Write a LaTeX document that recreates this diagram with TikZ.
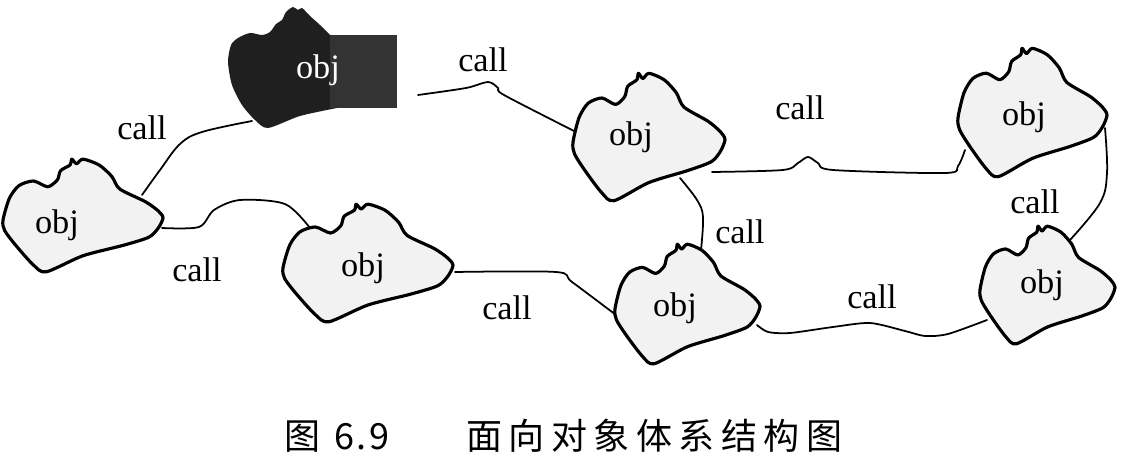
\documentclass[tikz,border=0pt]{standalone}
\usepackage{fontspec}
\setmainfont{Liberation Serif}
\newfontfamily\cjk[LetterSpace=18]{Noto Sans CJK SC}
\usetikzlibrary{positioning}

\begin{document}
\begin{tikzpicture}[x=0.02cm,y=-0.02cm,
	blob/.style={draw=black,line width=1.8pt,fill=black!5,line join=round},
	link/.style={draw=black,line width=1pt,line cap=round},
	lbl/.style={font=\fontsize{19.5}{22}\selectfont,inner sep=0pt}]

\useasboundingbox (0,0) rectangle (1127,452);

% attach points of the calls
\coordinate (c12a) at (142,195);
\coordinate (c12b) at (252,121);
\coordinate (c13a) at (162,228);
\coordinate (c13b) at (310,228);
\coordinate (c24a) at (418,95);
\coordinate (c24b) at (574,131);
\coordinate (c35a) at (455,272);
\coordinate (c35b) at (616,315);
\coordinate (c46a) at (712,172);
\coordinate (c46b) at (965,150);
\coordinate (c45a) at (680,178);
\coordinate (c45b) at (701,250);
\coordinate (c67a) at (1105,128);
\coordinate (c67b) at (1070,240);
\coordinate (c57a) at (757,325);
\coordinate (c57b) at (987,320);

% calls
\draw[link] plot[smooth,tension=0.6] coordinates {(c12a) (160,170) (180,144) (202,132) (c12b)};
\draw[link] plot[smooth,tension=0.5] coordinates {(c13a) (199,227) (214,210) (240,200) (285,204) (c13b)};
\draw[link] plot[smooth,tension=0.5] coordinates {(c24a) (466,88) (488,82) (498,88) (504,95) (c24b)};
\draw[link] plot[smooth,tension=0.5] coordinates {(c35a) (556,272) (572,282) (c35b)};
\draw[link] plot[smooth,tension=0.5] coordinates {(c46a) (783,170) (798,163) (808,157) (818,163) (833,170) (945,173) (958,166) (c46b)};
\draw[link] plot[smooth,tension=0.6] coordinates {(c45a) (697,200) (703,217) (c45b)};
\draw[link] plot[smooth,tension=0.6] coordinates {(c67a) (1107,173) (1100,203) (c67b)};
\draw[link] plot[smooth,tension=0.45] coordinates {(c57a) (768,332) (790,333) (833,327) (870,323) (905,331) (925,336) (948,334) (c57b)};

\node[lbl] (l12) at (142,128) {call};
\node[lbl] (l13) at (197,270) {call};
\node[lbl] (l24) at (483,60) {call};
\node[lbl] (l35) at (507,308) {call};
\node[lbl] (l46) at (800,108) {call};
\node[lbl] (l45) at (740,232) {call};
\node[lbl] (l67) at (1035,202) {call};
\node[lbl] (l57) at (872,297) {call};

% light objects
\foreach \n/\x/\y/\w/\h/\tx/\ty in {o1/3/158/160/115/57/225,
					o3/283/203/170/120/363/268,
					o4/573/72/152/130/631/137,
					o5/615/243/145/122/675/308,
					o6/958/47/149/131/1024/117,
					o7/980/225/135/120/1042/285}
{
	\begin{scope}[shift={(\x,\y)},xscale=\w,yscale=\h]
		\draw[blob] plot[smooth cycle,tension=0.45] coordinates {
			(0.00,0.54) (0.04,0.35) (0.10,0.24) (0.19,0.20) (0.28,0.25)
			(0.34,0.19) (0.36,0.11) (0.42,0.06) (0.43,0.01) (0.46,0.05)
			(0.50,0.01) (0.60,0.06) (0.68,0.16) (0.73,0.27) (0.89,0.38)
			(0.97,0.46) (1.00,0.52) (0.97,0.61) (0.91,0.69) (0.75,0.76)
			(0.50,0.85) (0.27,0.99) (0.19,0.93) (0.08,0.76) (0.01,0.63)};
	\end{scope}
	\node[lbl] (\n) at (\tx,\ty) {obj};
};

% dark object
\fill[black!88] plot[smooth,tension=0.45] coordinates {
	(337,108) (300,116) (268,128) (255,120) (242,105) (232,85) (228,62)
	(231,45) (238,38) (250,33) (262,35) (270,32) (276,24) (282,20)
	(286,12) (293,7) (298,10) (302,8) (310,16) (320,25) (330,35)} -- cycle;
\fill[black!80] (330,35) rectangle (397,108);
\node[lbl,text=white] (o2) at (318,70) {obj};

% caption
\node[font=\cjk\fontsize{20.5}{24}\selectfont,anchor=west] (cap) at (278,436)
	{图 {\addfontfeature{LetterSpace=6}6.9}\hspace{44pt}面向对象体系结构图};
\end{tikzpicture}
\end{document}
